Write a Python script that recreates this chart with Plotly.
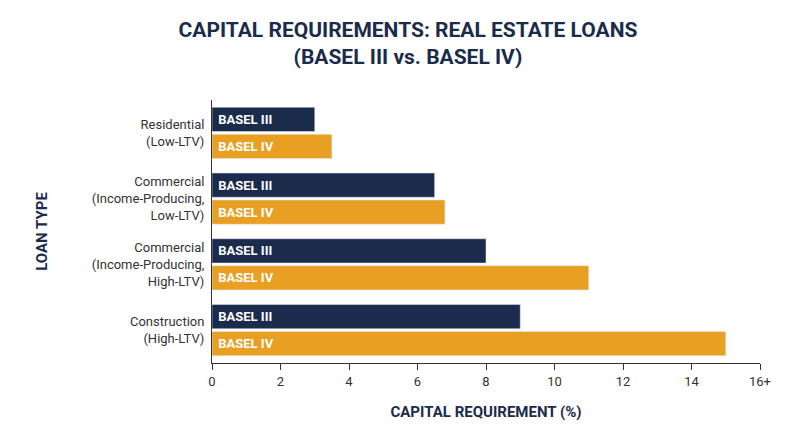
import plotly.graph_objects as go

categories = ["Residential<br>(Low-LTV)",
              "Commercial<br>(Income-Producing,<br>Low-LTV)",
              "Commercial<br>(Income-Producing,<br>High-LTV)",
              "Construction<br>(High-LTV)"]
basel3 = [3, 6.5, 8, 9]
basel4 = [3.5, 6.8, 11, 15]
tick_vals = [0, 2, 4, 6, 8, 10, 12, 14, 16]
tick_text = ["0", "2", "4", "6", "8", "10", "12", "14", "16+"]

navy = "#1b2b4b"
orange = "#e89f22"

fig = go.Figure()
for name, vals, col in [("BASEL III", basel3, navy), ("BASEL IV", basel4, orange)]:
    fig.add_trace(go.Bar(
        y=categories, x=vals, name=name, orientation="h", marker_color=col,
        text=["<b> " + name + "</b>"] * len(vals), textposition="inside", insidetextanchor="start",
        textfont=dict(color="white", size=13, family="Roboto"),
        hoverinfo="x+y",
    ))

fig.update_layout(
    width=800, height=447, barmode="group", bargap=0.18, bargroupgap=0.1,
    showlegend=False, plot_bgcolor="white", paper_bgcolor="white",
    margin=dict(l=204, r=48, t=92, b=92, autoexpand=False),
    font=dict(family="Roboto", color="#1b2b4b"),
    title=dict(text="<b>CAPITAL REQUIREMENTS: REAL ESTATE LOANS<br>(BASEL III vs. BASEL IV)</b>",
               x=0.5, xanchor="center", y=0.935, yanchor="top",
               font=dict(size=21, color=navy)),
)
fig.update_xaxes(range=[0, 16], tickvals=tick_vals, ticktext=tick_text, automargin=False,
                 showgrid=False, zeroline=False, showline=True, linecolor="#333",
                 ticks="outside", ticklen=6, tickcolor="#333",
                 tickfont=dict(size=13, color="#333"),
                 title=dict(text="<b>CAPITAL REQUIREMENT (%)</b>", font=dict(size=15, color=navy), standoff=18))
fig.update_yaxes(autorange="reversed", showgrid=False, showline=True, linecolor="#333",
                 automargin=False, tickfont=dict(size=13, color="#333"), ticks="", ticklabelstandoff=4,
                 title=dict(text="<b>LOAN TYPE</b>", font=dict(size=15, color=navy), standoff=40))

fig.write_html("out.html")
